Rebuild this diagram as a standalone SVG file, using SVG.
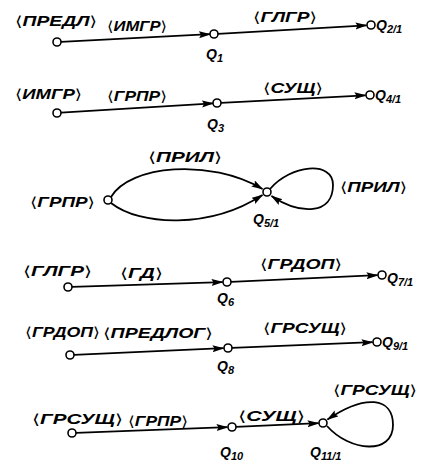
<svg xmlns="http://www.w3.org/2000/svg" width="434" height="465" viewBox="0 0 434 465">
<style>
  .n{fill:#fff;stroke:#000;stroke-width:1.6}
  .e{fill:none;stroke:#000;stroke-width:1.8;marker-end:url(#ah)}
  text{font-family:"Liberation Sans","DejaVu Sans",sans-serif;font-style:italic;font-weight:bold;fill:#000}
  .b{font-family:"DejaVu Sans",sans-serif;font-style:normal;font-weight:normal}
  .t{font-size:14px}
  .q{font-size:14px}
  .s{font-size:11px}
</style>
<defs>
  <marker id="ah" markerUnits="userSpaceOnUse" markerWidth="13" markerHeight="8" refX="11" refY="3.5" orient="auto">
    <path d="M0,0 L12,3.5 L0,7 L2,3.5 z" fill="#000"/>
  </marker>
</defs>
<rect width="434" height="465" fill="#fff"/>

<g id="connectors">
  <line class="e" x1="61" y1="41.8" x2="210" y2="34.2"/>
  <line class="e" x1="218" y1="33.8" x2="366.5" y2="25.3"/>
  <line class="e" x1="61" y1="112.7" x2="213" y2="103.3"/>
  <line class="e" x1="221" y1="102.8" x2="365.5" y2="95.3"/>
  <path class="e" d="M111,197 C130,165 210,158 262.5,189"/>
  <path class="e" d="M111,203 C140,226 210,229 262.5,195"/>
  <path class="e" d="M270,189 C290,165 333,160 333,185 C333,215 300,215 271.5,196"/>
  <line class="e" x1="72" y1="286.9" x2="222.5" y2="282.1"/>
  <line class="e" x1="231" y1="281.8" x2="377.5" y2="275.2"/>
  <line class="e" x1="74" y1="354.8" x2="223.5" y2="348.2"/>
  <line class="e" x1="232" y1="347.8" x2="372.5" y2="342.2"/>
  <line class="e" x1="76" y1="432.9" x2="227.5" y2="427.2"/>
  <line class="e" x1="236" y1="426.8" x2="318.5" y2="423.2"/>
  <path class="e" d="M327,426 C350,452 393,455 393,425 C393,397 365,394 327.5,419.5"/>
</g>

<g id="labels">
  <text class="t" x="15" y="26" textLength="82" lengthAdjust="spacingAndGlyphs"><tspan class="b">⟨</tspan>ПРЕДЛ<tspan class="b">⟩</tspan></text>
  <text class="t" x="107" y="31" textLength="60" lengthAdjust="spacingAndGlyphs"><tspan class="b">⟨</tspan>ИМГР<tspan class="b">⟩</tspan></text>
  <text class="t" x="253" y="22" textLength="64" lengthAdjust="spacingAndGlyphs"><tspan class="b">⟨</tspan>ГЛГР<tspan class="b">⟩</tspan></text>
  <text class="t" x="15" y="99" textLength="67" lengthAdjust="spacingAndGlyphs"><tspan class="b">⟨</tspan>ИМГР<tspan class="b">⟩</tspan></text>
  <text class="t" x="107" y="101" textLength="60" lengthAdjust="spacingAndGlyphs"><tspan class="b">⟨</tspan>ГРПР<tspan class="b">⟩</tspan></text>
  <text class="t" x="263" y="93" textLength="60" lengthAdjust="spacingAndGlyphs"><tspan class="b">⟨</tspan>СУЩ<tspan class="b">⟩</tspan></text>
  <text class="t" x="148" y="162" textLength="74" lengthAdjust="spacingAndGlyphs"><tspan class="b">⟨</tspan>ПРИЛ<tspan class="b">⟩</tspan></text>
  <text class="t" x="30" y="207" textLength="65" lengthAdjust="spacingAndGlyphs"><tspan class="b">⟨</tspan>ГРПР<tspan class="b">⟩</tspan></text>
  <text class="t" x="340" y="192" textLength="67" lengthAdjust="spacingAndGlyphs"><tspan class="b">⟨</tspan>ПРИЛ<tspan class="b">⟩</tspan></text>
  <text class="t" x="23" y="276" textLength="69" lengthAdjust="spacingAndGlyphs"><tspan class="b">⟨</tspan>ГЛГР<tspan class="b">⟩</tspan></text>
  <text class="t" x="120" y="278" textLength="43" lengthAdjust="spacingAndGlyphs"><tspan class="b">⟨</tspan>ГД<tspan class="b">⟩</tspan></text>
  <text class="t" x="260" y="269" textLength="82" lengthAdjust="spacingAndGlyphs"><tspan class="b">⟨</tspan>ГРДОП<tspan class="b">⟩</tspan></text>
  <text class="t" x="25" y="337" textLength="75" lengthAdjust="spacingAndGlyphs"><tspan class="b">⟨</tspan>ГРДОП<tspan class="b">⟩</tspan></text>
  <text class="t" x="103" y="338" textLength="110" lengthAdjust="spacingAndGlyphs"><tspan class="b">⟨</tspan>ПРЕДЛОГ<tspan class="b">⟩</tspan></text>
  <text class="t" x="263" y="333" textLength="84" lengthAdjust="spacingAndGlyphs"><tspan class="b">⟨</tspan>ГРСУЩ<tspan class="b">⟩</tspan></text>
  <text class="t" x="32" y="424" textLength="91" lengthAdjust="spacingAndGlyphs"><tspan class="b">⟨</tspan>ГРСУЩ<tspan class="b">⟩</tspan></text>
  <text class="t" x="128" y="426" textLength="60" lengthAdjust="spacingAndGlyphs"><tspan class="b">⟨</tspan>ГРПР<tspan class="b">⟩</tspan></text>
  <text class="t" x="238" y="421" textLength="67" lengthAdjust="spacingAndGlyphs"><tspan class="b">⟨</tspan>СУЩ<tspan class="b">⟩</tspan></text>
  <text class="t" x="333" y="395" textLength="84" lengthAdjust="spacingAndGlyphs"><tspan class="b">⟨</tspan>ГРСУЩ<tspan class="b">⟩</tspan></text>
</g>

<g id="s1"><circle class="n" cx="57" cy="42" r="4"/></g>
<g id="Q1"><circle class="n" cx="214" cy="34" r="4"/><text class="q" x="206" y="59">Q<tspan class="s" dy="3">1</tspan></text></g>
<g id="Q2"><circle class="n" cx="371" cy="25" r="4"/><text class="q" x="376" y="30">Q<tspan class="s" dy="3">2/1</tspan></text></g>

<g id="s2"><circle class="n" cx="57" cy="113" r="4"/></g>
<g id="Q3"><circle class="n" cx="217" cy="103" r="4"/><text class="q" x="207" y="129">Q<tspan class="s" dy="3">3</tspan></text></g>
<g id="Q4"><circle class="n" cx="370" cy="95" r="4"/><text class="q" x="375" y="100">Q<tspan class="s" dy="3">4/1</tspan></text></g>

<g id="s3"><circle class="n" cx="108" cy="200" r="4"/></g>
<g id="Q5"><circle class="n" cx="267" cy="192" r="4"/><text class="q" x="253" y="224">Q<tspan class="s" dy="3">5/1</tspan></text></g>

<g id="s4"><circle class="n" cx="68" cy="287" r="4"/></g>
<g id="Q6"><circle class="n" cx="227" cy="282" r="4"/><text class="q" x="217" y="303">Q<tspan class="s" dy="3">6</tspan></text></g>
<g id="Q7"><circle class="n" cx="382" cy="275" r="4"/><text class="q" x="387" y="283">Q<tspan class="s" dy="3">7/1</tspan></text></g>

<g id="s5"><circle class="n" cx="70" cy="355" r="4"/></g>
<g id="Q8"><circle class="n" cx="228" cy="348" r="4"/><text class="q" x="217" y="371">Q<tspan class="s" dy="3">8</tspan></text></g>
<g id="Q9"><circle class="n" cx="377" cy="342" r="4"/><text class="q" x="382" y="347">Q<tspan class="s" dy="3">9/1</tspan></text></g>

<g id="s6"><circle class="n" cx="72" cy="433" r="4"/></g>
<g id="Q10"><circle class="n" cx="232" cy="427" r="4"/><text class="q" x="220" y="457">Q<tspan class="s" dy="3">10</tspan></text></g>
<g id="Q11"><circle class="n" cx="323" cy="423" r="4"/><text class="q" x="310" y="457">Q<tspan class="s" dy="3">11/1</tspan></text></g>
</svg>
